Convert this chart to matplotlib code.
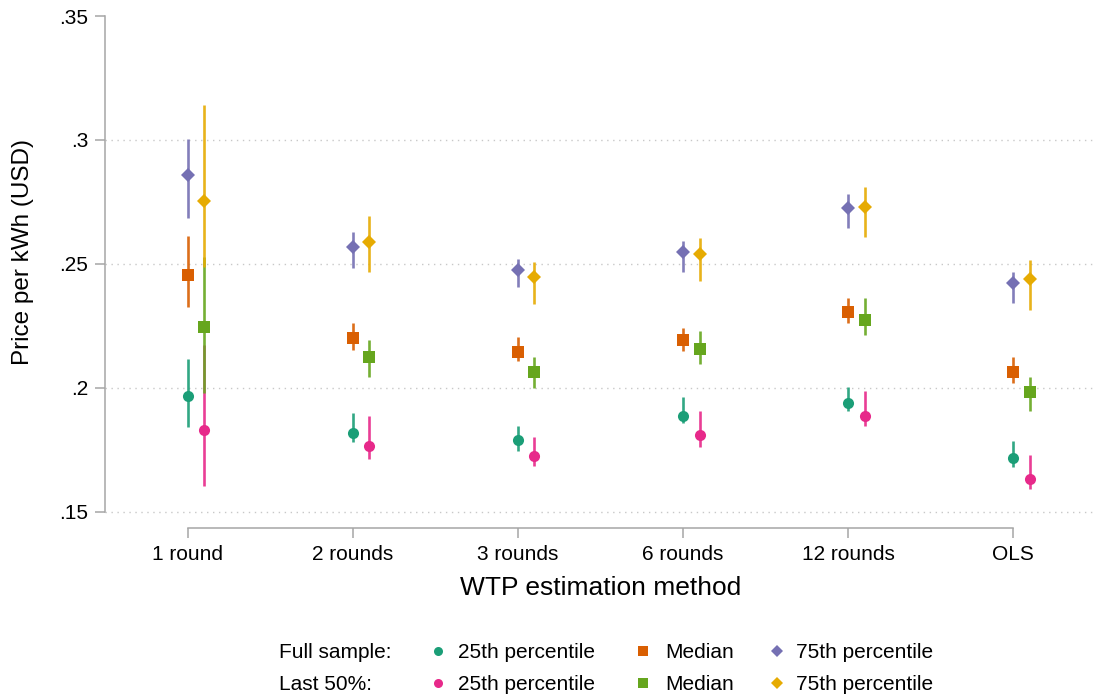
import matplotlib
matplotlib.use("Agg")
import matplotlib.pyplot as plt
from matplotlib.lines import Line2D
import numpy as np

plt.rcParams["font.family"] = ["Liberation Sans", "DejaVu Sans"]

# Estimation methods on the x axis
methods = ["1 round", "2 rounds", "3 rounds", "6 rounds", "12 rounds", "OLS"]

# Full sample: point estimates and confidence bounds
full_p25 = [0.1968, 0.1817, 0.1788, 0.1887, 0.1941, 0.1717]
full_p25_lo = [0.1844, 0.1780, 0.1747, 0.1860, 0.1908, 0.1680]
full_p25_hi = [0.2117, 0.1898, 0.1847, 0.1965, 0.2005, 0.1784]

full_med = [0.2454, 0.2200, 0.2144, 0.2194, 0.2305, 0.2063]
full_med_lo = [0.2327, 0.2153, 0.2109, 0.2147, 0.2261, 0.2021]
full_med_hi = [0.2613, 0.2263, 0.2207, 0.2241, 0.2364, 0.2124]

full_p75 = [0.2859, 0.2570, 0.2476, 0.2550, 0.2727, 0.2425]
full_p75_lo = [0.2684, 0.2485, 0.2406, 0.2469, 0.2644, 0.2344]
full_p75_hi = [0.3003, 0.2630, 0.2519, 0.2593, 0.2781, 0.2469]

# Last 50% of rounds: point estimates and confidence bounds
last_p25 = [0.1831, 0.1766, 0.1726, 0.1810, 0.1887, 0.1633]
last_p25_lo = [0.1606, 0.1712, 0.1685, 0.1763, 0.1847, 0.1593]
last_p25_hi = [0.2173, 0.1887, 0.1801, 0.1908, 0.1989, 0.1730]

last_med = [0.2245, 0.2126, 0.2063, 0.2156, 0.2274, 0.1983]
last_med_lo = [0.1979, 0.2043, 0.1999, 0.2097, 0.2214, 0.1908]
last_med_hi = [0.2530, 0.2194, 0.2126, 0.2230, 0.2362, 0.2043]

last_p75 = [0.2754, 0.2590, 0.2446, 0.2540, 0.2729, 0.2440]
last_p75_lo = [0.2489, 0.2469, 0.2339, 0.2433, 0.2608, 0.2315]
last_p75_hi = [0.3141, 0.2694, 0.2509, 0.2604, 0.2809, 0.2516]

y_ticks = [0.15, 0.20, 0.25, 0.30, 0.35]
y_ticklabels = [".15", ".2", ".25", ".3", ".35"]

W, H = 1095, 698
fig = plt.figure(figsize=(W / 100, H / 100), dpi=100)
ax = fig.add_axes([105 / W, 1 - 528 / H, (1096 - 105) / W, (528 - 16) / H])

x = np.arange(1, len(methods) + 1)
shift = 0.1

series = [
    (x, full_p25, full_p25_lo, full_p25_hi, "#1b9e77", "o", 8.0),
    (x, full_med, full_med_lo, full_med_hi, "#d95f02", "s", 8.0),
    (x, full_p75, full_p75_lo, full_p75_hi, "#7570b3", "D", 7.0),
    (x + shift, last_p25, last_p25_lo, last_p25_hi, "#e7298a", "o", 8.0),
    (x + shift, last_med, last_med_lo, last_med_hi, "#66a61e", "s", 8.0),
    (x + shift, last_p75, last_p75_lo, last_p75_hi, "#e6ab02", "D", 7.0),
]

for xs, est, lo, hi, col, mk, ms in series:
    ax.vlines(xs, lo, hi, colors=col, linewidth=1.9, alpha=0.9, zorder=3)
for xs, est, lo, hi, col, mk, ms in series:
    ax.plot(xs, est, linestyle="none", marker=mk, color=col,
            markersize=ms, markeredgewidth=0, zorder=4)

ax.set_xlim(0.5, 6.5)
ax.set_ylim(0.1435, 0.35)

# Dotted horizontal grid
for yv in [0.15, 0.20, 0.25, 0.30]:
    ax.axhline(yv, color="#c8c8c8", linewidth=1.0,
               linestyle=(0, (1, 3.3)), zorder=1)

for side in ["top", "right"]:
    ax.spines[side].set_visible(False)
spine_col = "#a6a6a6"
ax.spines["left"].set_bounds(0.15, 0.35)
ax.spines["bottom"].set_bounds(1, 6)
ax.spines["left"].set_color(spine_col)
ax.spines["bottom"].set_color(spine_col)
ax.spines["left"].set_linewidth(1.1)
ax.spines["bottom"].set_linewidth(1.1)

ax.set_yticks(y_ticks)
ax.set_yticklabels(y_ticklabels)
ax.set_xticks(x)
ax.set_xticklabels(methods)
ax.tick_params(axis="both", colors=spine_col, labelcolor="black",
               labelsize=15, length=7, width=1.1)
ax.tick_params(axis="y", pad=5)
ax.tick_params(axis="x", pad=5)

fig.text(459 / W + (742 - 459) / 2 / W, 1 - 588 / H, "WTP estimation method",
         ha="center", va="center", fontsize=19)
fig.text(23 / W, 1 - 252 / H, "Price per kWh (USD)", rotation=90,
         ha="center", va="center", fontsize=17.5)

# Legend rows
def fx(px):
    return px / W

def fy(py):
    return 1 - py / H

rows = [
    ("Full sample:", 651, [("#1b9e77", "o", 6.5, "25th percentile"),
                           ("#d95f02", "s", 7.2, "Median"),
                           ("#7570b3", "D", 6.5, "75th percentile")]),
    ("Last 50%:", 683, [("#e7298a", "o", 6.5, "25th percentile"),
                        ("#66a61e", "s", 7.2, "Median"),
                        ("#e6ab02", "D", 6.5, "75th percentile")]),
]
marker_x = [438, 643, 777]
text_x = [458, 665, 796]
for label, py, entries in rows:
    fig.text(fx(279), fy(py + 1.5), label, ha="left", va="center", fontsize=15)
    for (col, mk, ms, txt), mx, tx in zip(entries, marker_x, text_x):
        fig.add_artist(Line2D([fx(mx)], [fy(py)], marker=mk, color=col,
                              markersize=ms, markeredgewidth=0,
                              linestyle="none", transform=fig.transFigure))
        fig.text(fx(tx), fy(py + 1.5), txt, ha="left", va="center", fontsize=15)

fig.savefig("out.png", dpi=100)
